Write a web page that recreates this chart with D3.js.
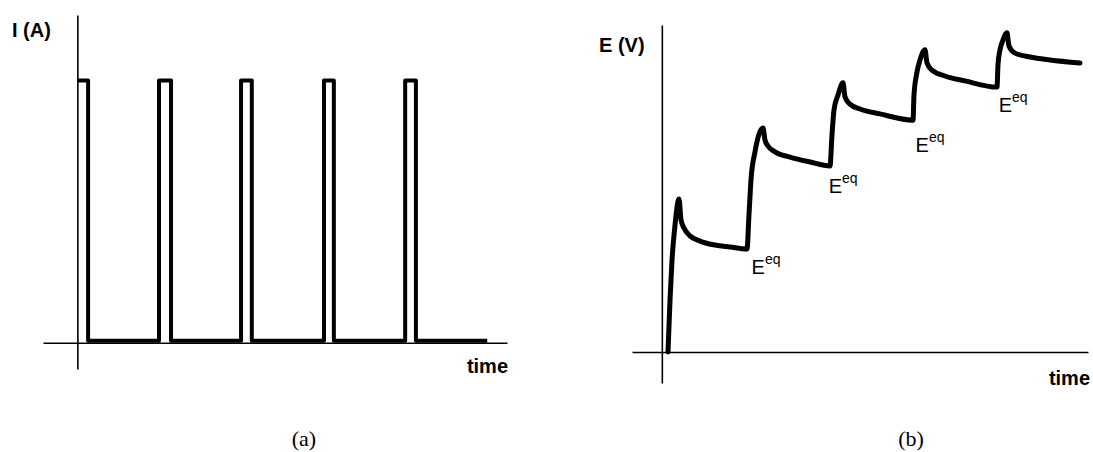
<!DOCTYPE html>
<html>
<head>
<meta charset="utf-8">
<style>
  body { margin: 0; background: #fff; }
  svg { display: block; font-family: "Liberation Sans", Arial, sans-serif; }
  .axis .domain { stroke: #000; stroke-width: 1.6; }
  .lbl { font-weight: bold; font-size: 20px; }
  .cap { font-family: "Liberation Serif", "Times New Roman", serif; font-size: 22px; }
</style>
</head>
<body>
<svg width="1093" height="452"></svg>
<script src="https://d3js.org/d3.v7.min.js"></script>
<script>

// ---- panel (a): current pulses ----
var currentHigh = 1,
    currentLow = 0.008,
    currentEnd = 95.4;
var pulseOn  = [0, 19.0, 38.1, 57.4, 76.3];
var pulseOff = [2.5, 21.8, 40.6, 59.7, 78.8];

// ---- panel (b): potential response ----
var potTime = [1.45, 1.92, 2.39, 3.09, 4.03, 4.50, 5.20, 6.61, 8.96, 12.48, 16.00, 19.98,
               20.45, 20.92, 21.86, 23.74, 24.21, 24.91, 26.55, 30.07, 34.77, 39.46,
               39.93, 40.40, 41.34, 42.51, 42.98, 44.15, 46.50, 51.19, 58.94,
               59.17, 59.87, 60.58, 61.75, 62.22, 63.39, 66.44, 71.14, 78.65,
               78.88, 79.35, 80.05, 80.99, 81.46, 82.87, 86.39, 91.08, 98.12];
var potVolt = [0, 1.59, 2.81, 3.88, 4.68, 4.04, 3.79, 3.55, 3.39, 3.27, 3.21, 3.15,
               4.19, 5.26, 6.12, 6.85, 6.48, 6.30, 6.12, 5.96, 5.81, 5.69,
               6.64, 7.40, 7.86, 8.23, 7.80, 7.58, 7.43, 7.28, 7.09,
               7.86, 8.56, 8.93, 9.24, 8.84, 8.62, 8.44, 8.29, 8.10,
               8.78, 9.24, 9.54, 9.76, 9.36, 9.14, 9.02, 8.93, 8.84];

// E^eq labels (time, volt)
var eqTime = [21.4, 39.5, 59.9, 79.4];
var eqVolt = [2.39, 4.86, 6.12, 7.34];

var svg = d3.select("svg");

// scales
var xa = d3.scaleLinear().domain([-8, 100]).range([43, 507]),
    ya = d3.scaleLinear().domain([-0.1, 1.25]).range([369, 15]);
var xb = d3.scaleLinear().domain([-7, 100]).range([632, 1088]),
    yb = d3.scaleLinear().domain([-0.95, 10]).range([383, 25]);

// axes (no ticks, just the lines)
svg.append("g").attr("class", "axis")
    .attr("transform", "translate(0," + ya(0) + ")")
    .call(d3.axisBottom(xa).tickValues([]).tickSizeOuter(0));
svg.append("g").attr("class", "axis")
    .attr("transform", "translate(" + xa(0) + ",0)")
    .call(d3.axisLeft(ya).tickValues([]).tickSizeOuter(0));

svg.append("g").attr("class", "axis")
    .attr("transform", "translate(0," + yb(0) + ")")
    .call(d3.axisBottom(xb).tickValues([]).tickSizeOuter(0));
svg.append("g").attr("class", "axis")
    .attr("transform", "translate(" + xb(0) + ",0)")
    .call(d3.axisLeft(yb).tickValues([]).tickSizeOuter(0));

// step trace for the current
var steps = [];
pulseOn.forEach(function(t, i) {
  if (i > 0) {
    steps.push([t, currentLow]);
  }
  steps.push([t, currentHigh]);
  steps.push([pulseOff[i], currentHigh]);
  steps.push([pulseOff[i], currentLow]);
});
steps.push([currentEnd, currentLow]);

svg.append("path")
    .datum(steps)
    .attr("fill", "none")
    .attr("stroke", "#000")
    .attr("stroke-width", 4)
    .attr("stroke-linejoin", "round")
    .attr("d", d3.line()
      .x(function(d) { return xa(d[0]); })
      .y(function(d) { return ya(d[1]); }));

// potential trace
var pot = potTime.map(function(t, i) { return [t, potVolt[i]]; });

svg.append("path")
    .datum(pot)
    .attr("fill", "none")
    .attr("stroke", "#000")
    .attr("stroke-width", 5)
    .attr("stroke-linejoin", "round")
    .attr("stroke-linecap", "round")
    .attr("d", d3.line()
      .curve(d3.curveMonotoneX)
      .x(function(d) { return xb(d[0]); })
      .y(function(d) { return yb(d[1]); }));

// E^eq labels
eqTime.forEach(function(t, i) {
  var lab = svg.append("text")
      .attr("x", xb(t) - 1.5)
      .attr("y", yb(eqVolt[i]))
      .style("font-size", "20px");
  lab.append("tspan").text("E");
  lab.append("tspan").attr("dy", -10).style("font-size", "14px").text("eq");
});

// axis titles
svg.append("text").attr("class", "lbl").attr("x", 12).attr("y", 37).text("I (A)");
svg.append("text").attr("class", "lbl").attr("x", 508).attr("y", 373)
    .attr("text-anchor", "end").text("time");
svg.append("text").attr("class", "lbl").attr("x", 599).attr("y", 52).text("E (V)");
svg.append("text").attr("class", "lbl").attr("x", 1090).attr("y", 385)
    .attr("text-anchor", "end").text("time");

// panel captions
svg.append("text").attr("class", "cap").attr("x", 304).attr("y", 446)
    .attr("text-anchor", "middle").text("(a)");
svg.append("text").attr("class", "cap").attr("x", 911).attr("y", 446)
    .attr("text-anchor", "middle").text("(b)");

</script>
</body>
</html>
